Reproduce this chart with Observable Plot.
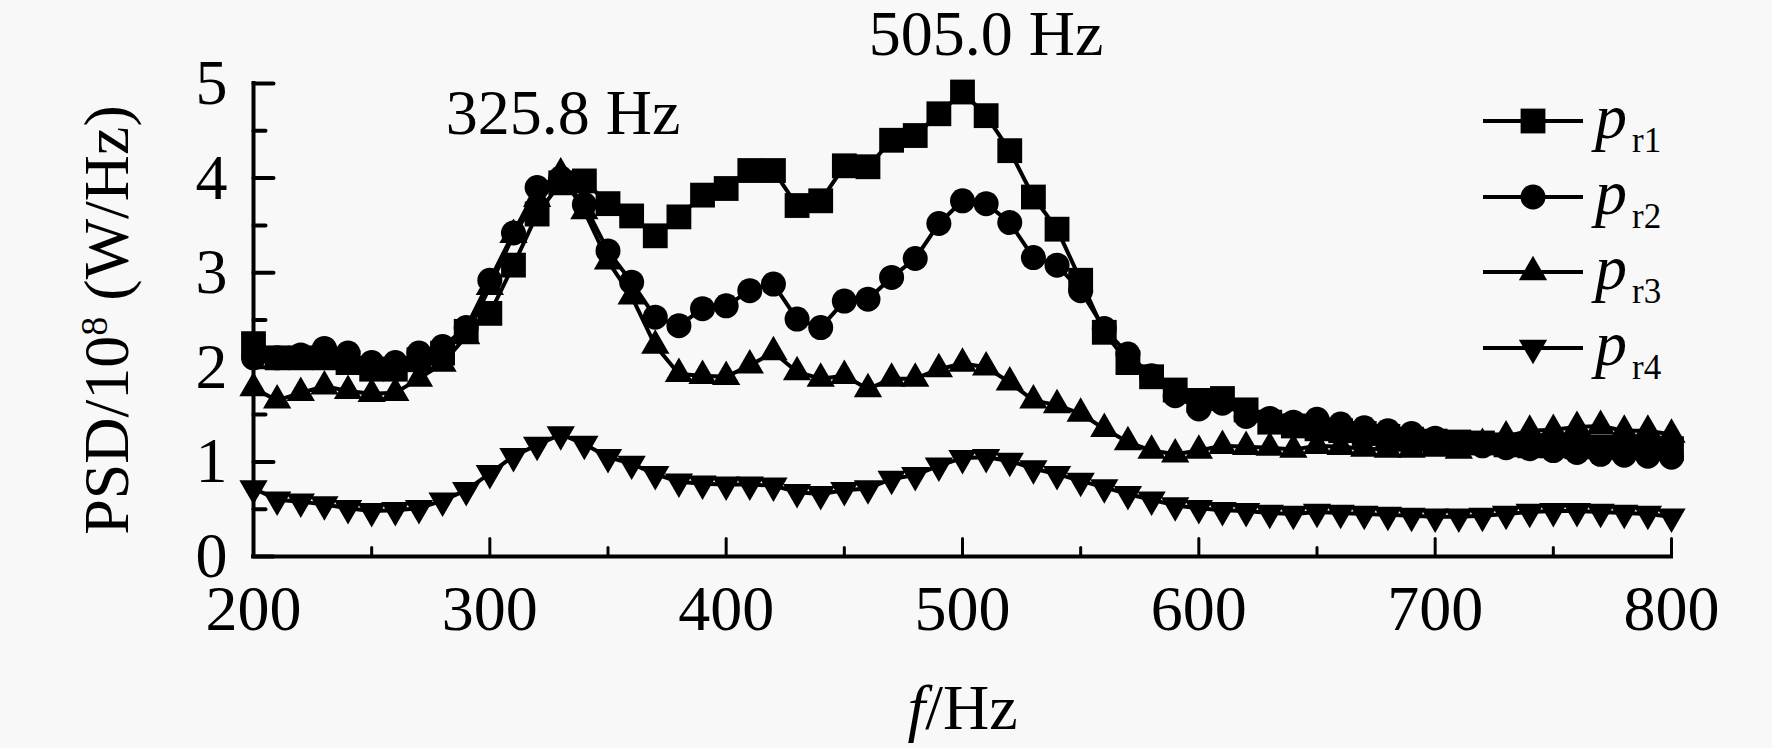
<!DOCTYPE html>
<html><head><meta charset="utf-8">
<script src="https://cdn.jsdelivr.net/npm/d3@7"></script>
<script src="https://cdn.jsdelivr.net/npm/@observablehq/plot@0.6"></script>
<style>
html,body{margin:0;padding:0;background:#f8f8f8;}
#wrap{position:relative;width:1772px;height:748px;font-family:"Liberation Serif","Times New Roman",serif;color:#000;}
#wrap svg.plot{display:block;}
.lrow{position:absolute;left:1483px;height:0;}
.lrow svg{position:absolute;left:0;top:-20px;overflow:visible;}
.lrow .lab{position:absolute;left:112px;top:-36px;font-size:64px;line-height:64px;white-space:nowrap;}
.lrow .lab i{font-style:italic;}
.lrow .lab span{font-size:35px;position:relative;top:14px;margin-left:5px;}
</style></head>
<body><div id="wrap"></div>
<script>
// ---- data ----
const freq = [200,210,220,230,240,250,260,270,280,290,300,310,320,330,340,350,360,370,380,390,400,410,420,430,440,450,460,470,480,490,500,510,520,530,540,550,560,570,580,590,600,610,620,630,640,650,660,670,680,690,700,710,720,730,740,750,760,770,780,790,800];
const pr1 = [2.25,2.10,2.10,2.10,2.05,1.98,1.98,2.08,2.15,2.38,2.57,3.08,3.62,3.95,3.97,3.73,3.60,3.39,3.59,3.82,3.89,4.08,4.08,3.71,3.76,4.13,4.12,4.40,4.45,4.68,4.91,4.66,4.29,3.80,3.46,2.92,2.37,2.05,1.90,1.76,1.65,1.67,1.55,1.42,1.38,1.35,1.33,1.30,1.27,1.24,1.22,1.21,1.20,1.18,1.17,1.17,1.16,1.16,1.15,1.15,1.14];
const pr2 = [2.10,2.10,2.13,2.20,2.15,2.05,2.05,2.15,2.22,2.42,2.92,3.42,3.90,4.00,3.72,3.23,2.90,2.53,2.44,2.62,2.65,2.81,2.88,2.51,2.42,2.70,2.72,2.95,3.15,3.52,3.76,3.73,3.53,3.16,3.08,2.81,2.41,2.14,1.91,1.70,1.56,1.62,1.48,1.46,1.42,1.45,1.40,1.36,1.33,1.30,1.25,1.20,1.17,1.15,1.14,1.12,1.10,1.08,1.07,1.06,1.05];
const pr3 = [1.78,1.65,1.73,1.80,1.75,1.72,1.73,1.88,2.04,2.33,2.85,3.40,3.78,4.05,3.65,3.12,2.75,2.23,1.93,1.91,1.90,2.02,2.16,1.95,1.88,1.91,1.77,1.88,1.88,1.98,2.04,2.00,1.84,1.65,1.60,1.51,1.35,1.21,1.12,1.08,1.12,1.17,1.16,1.15,1.13,1.17,1.16,1.14,1.13,1.13,1.14,1.12,1.19,1.27,1.33,1.34,1.37,1.38,1.33,1.33,1.29];
const pr4 = [0.72,0.60,0.58,0.55,0.51,0.48,0.49,0.51,0.59,0.70,0.88,1.06,1.18,1.29,1.19,1.05,0.98,0.87,0.79,0.77,0.76,0.76,0.75,0.68,0.66,0.70,0.72,0.82,0.86,0.96,1.04,1.05,1.01,0.93,0.87,0.80,0.73,0.66,0.60,0.54,0.51,0.49,0.48,0.46,0.45,0.47,0.46,0.45,0.44,0.43,0.42,0.42,0.43,0.45,0.47,0.48,0.48,0.47,0.46,0.45,0.42];
const seriesNames = ["r1","r2","r3","r4"];
const xDomain = [200, 800];
const yDomain = [0, 5];
const xTicksMajor = [200,300,400,500,600,700,800];
const xTicksMinor = [250,350,450,550,650,750];
const yTicksMajor = [0,1,2,3,4,5];
const yTicksMinor = [0.5,1.5,2.5,3.5,4.5];
const annoFreq = [331, 510];
const annoValue = [4.47, 5.30];
const annoLabel = ["325.8 Hz", "505.0 Hz"];
const xTitle = "f/Hz";
const yTitle = "PSD/10⁸ (W/Hz)";

// ---- build ----
const allSeries = [pr1, pr2, pr3, pr4];
const tables = allSeries.map(arr => freq.map((f, i) => ({f, v: arr[i]})));
const symStyle = [
  {symbol: "square", r: 14, rotate: 0},
  {symbol: "circle", r: 12.5, rotate: 0},
  {symbol: "triangle", r: 10.5, rotate: 0},
  {symbol: "triangle", r: 10.5, rotate: 180}
];
const tickShape = {draw(context, l) { context.moveTo(0, 0); context.lineTo(0, -l); }};
const annotations = annoLabel.map((label, i) => ({f: annoFreq[i], v: annoValue[i], label}));

const seriesMarks = [];
tables.forEach((t, i) => {
  seriesMarks.push(Plot.line(t, {x: "f", y: "v", stroke: "black", strokeWidth: 4, strokeLinejoin: "round"}));
  seriesMarks.push(Plot.dot(t, {x: "f", y: "v", symbol: symStyle[i].symbol, r: symStyle[i].r, rotate: symStyle[i].rotate, fill: "black", stroke: "none"}));
});

const chart = Plot.plot({
  width: 1772, height: 748,
  marginLeft: 253, marginRight: 101, marginTop: 83, marginBottom: 192,
  x: {domain: xDomain},
  y: {domain: yDomain},
  style: {background: "transparent", fontFamily: '"Liberation Serif","Times New Roman",serif', fontSize: "64px", color: "black", overflow: "visible"},
  marks: [
    Plot.axisX(xTicksMajor, {tickSize: 0, tickPadding: 28, fontSize: 64, label: null, tickFormat: d => String(d)}),
    Plot.axisY(yTicksMajor, {tickSize: 0, tickPadding: 26, fontSize: 64, label: null, tickFormat: d => String(d)}),
    Plot.vector(yTicksMajor, {x: xDomain[0], y: d => d, length: 20, rotate: 90, anchor: "start", shape: tickShape, stroke: "black", strokeWidth: 4}),
    Plot.vector(yTicksMinor, {x: xDomain[0], y: d => d, length: 12, rotate: 90, anchor: "start", shape: tickShape, stroke: "black", strokeWidth: 4}),
    Plot.vector(xTicksMajor, {x: d => d, y: yDomain[0], length: 18, rotate: 0, anchor: "start", shape: tickShape, stroke: "black", strokeWidth: 3}),
    Plot.vector(xTicksMinor, {x: d => d, y: yDomain[0], length: 9, rotate: 0, anchor: "start", shape: tickShape, stroke: "black", strokeWidth: 3}),
    ...seriesMarks,
    Plot.ruleX([xDomain[0]], {y1: yDomain[0], y2: yDomain[1], stroke: "black", strokeWidth: 4, strokeLinecap: "square"}),
    Plot.ruleY([yDomain[0]], {x1: xDomain[0], x2: xDomain[1], stroke: "black", strokeWidth: 4, strokeLinecap: "square"}),
    Plot.text(annotations, {x: "f", y: "v", text: "label", lineAnchor: "bottom", fontSize: 64, fill: "black"}),
    Plot.text([xTitle], {text: d => d, frameAnchor: "bottom", dy: 172, lineAnchor: "bottom", textAnchor: "middle", fontSize: 64, fill: "black"}),
    Plot.text([yTitle], {text: d => d, frameAnchor: "left", rotate: -90, dx: -146, textAnchor: "middle", lineAnchor: "middle", fontSize: 64, fill: "black"})
  ]
});
const wrap = document.getElementById("wrap");
wrap.appendChild(chart);

// rich text for titles
const ns = "http://www.w3.org/2000/svg";
function ts(txt, attrs) { const e = document.createElementNS(ns, "tspan"); e.textContent = txt; for (const k in attrs) e.setAttribute(k, attrs[k]); return e; }
chart.querySelectorAll("text").forEach(t => {
  if (t.textContent === yTitle) {
    t.textContent = "";
    t.appendChild(ts("PSD/10", {}));
    t.appendChild(ts("8", {"font-size": 38, dy: -21}));
    t.appendChild(ts(" (W/Hz)", {dy: 21}));
  } else if (t.textContent === xTitle) {
    t.textContent = "";
    t.appendChild(ts("f", {"font-style": "italic"}));
    t.appendChild(ts("/Hz", {}));
  }
});

// legend (inside plot area, upper right)
const legendY = [121, 196.5, 272, 347.5];
seriesNames.forEach((name, i) => {
  const row = d3.select(wrap).append("div").attr("class", "lrow").style("top", legendY[i] + "px");
  const s = row.append("svg").attr("width", 100).attr("height", 40);
  s.append("line").attr("x1", 0).attr("x2", 100).attr("y1", 20).attr("y2", 20).attr("stroke", "black").attr("stroke-width", 4);
  const symMap = {square: d3.symbolSquare, circle: d3.symbolCircle, triangle: d3.symbolTriangle};
  const st = symStyle[i];
  s.append("path").attr("d", d3.symbol(symMap[st.symbol], st.r * st.r * Math.PI)()).attr("transform", `translate(50,20) rotate(${st.rotate})`).attr("fill", "black");
  const lab = row.append("div").attr("class", "lab");
  lab.append("i").text("p");
  lab.append("span").text(name);
});
</script>
</body></html>
